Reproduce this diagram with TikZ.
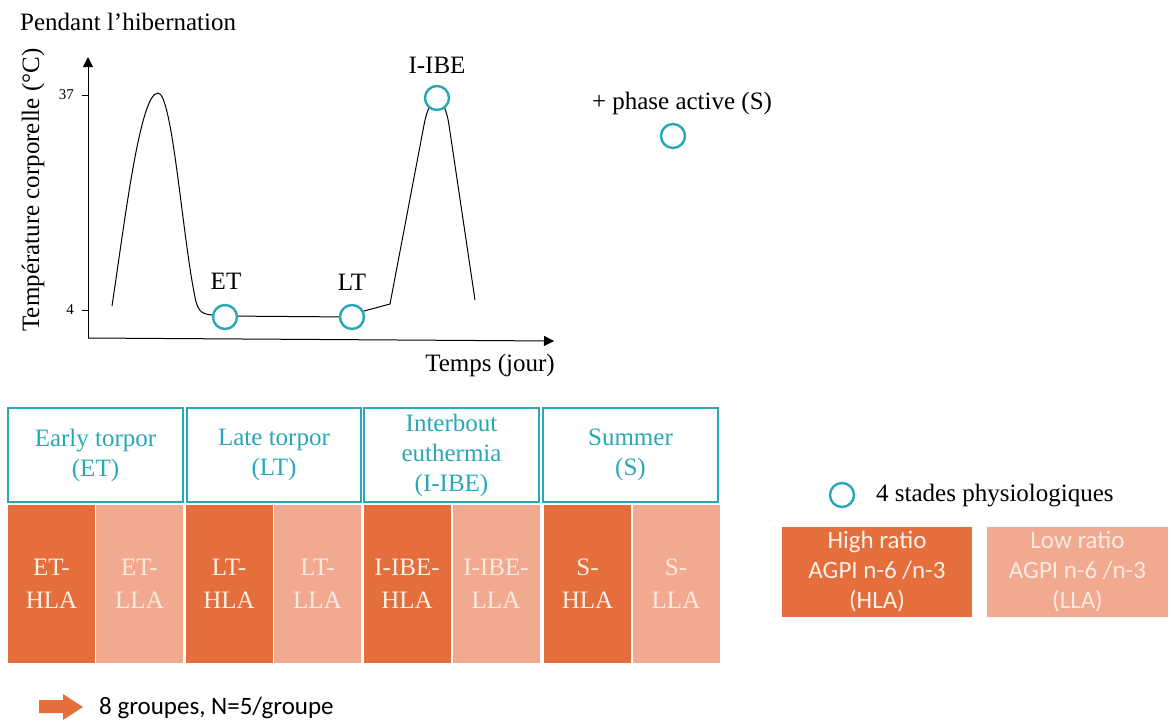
\documentclass[tikz,border=0pt]{standalone}
\usepackage{fontspec}
\setmainfont{Liberation Serif}
\newfontfamily\calib{Carlito}
\usetikzlibrary{arrows.meta}
\definecolor{teal1}{RGB}{40,168,182}
\definecolor{darkor}{RGB}{228,110,60}
\definecolor{lightor}{RGB}{241,170,143}
\definecolor{hltext}{RGB}{252,240,232}
\definecolor{lltext}{RGB}{253,234,225}
\newcommand\fbig{\fontsize{25}{30}\selectfont}
\newcommand\fcell{\fontsize{25}{33}\selectfont}
\newcommand\fsans{\calib\fontsize{25}{30}\selectfont}
\newcommand\fsmall{\fontsize{15}{18}\selectfont}
\begin{document}
\begin{tikzpicture}[x=1pt,y=-1pt,
  stage/.style={circle, draw=teal1, line width=2.4pt, fill=white, minimum size=24pt, inner sep=0pt},
  axis/.style={line width=1pt, -{Triangle[width=10pt,length=10pt]}},
  curveline/.style={line width=1pt, black},
  lbl/.style={font=\fbig, inner sep=0pt},
  phasebox/.style={draw=teal1, line width=1.2pt, minimum height=94pt, text=teal1, align=center, font=\fbig, inner sep=0pt},
  hlabox/.style={fill=darkor, minimum width=87pt, minimum height=158pt, text=hltext, align=center, font=\fcell, inner sep=0pt},
  llabox/.style={fill=lightor, minimum width=87pt, minimum height=158pt, text=lltext, align=center, font=\fcell, inner sep=0pt},
  legbox/.style={minimum height=90pt, align=center, font=\fsans, inner sep=0pt}
]
\useasboundingbox (0,0) rectangle (1171,724);

% title
\node[lbl, anchor=west] (title) at (20,22) {Pendant l'hibernation};

% axes
\coordinate (origin) at (88,338);
\coordinate (ytop) at (88,57);
\coordinate (xend) at (554,341);
\draw[axis] (origin) -- (ytop);
\draw[axis] (origin) -- (xend);
\coordinate (t37) at (82,95);
\coordinate (t37b) at (88,95);
\coordinate (t4) at (82,310);
\coordinate (t4b) at (88,310);
\draw[line width=0.8pt] (t37) -- (t37b);
\draw[line width=0.8pt] (t4) -- (t4b);
\node[font=\fsmall, anchor=east, inner sep=0pt] (l37) at (74,95) {37};
\node[font=\fsmall, anchor=east, inner sep=0pt] (l4) at (74,310) {4};
\node[lbl, rotate=90] (ylab) at (33,190) {Température corporelle (°C)};
\node[lbl] (xlab) at (490,365) {Temps (jour)};

% curve
\draw[curveline] (112,306) .. controls (125,220) and (140,93) .. (158,93)
  .. controls (172,93) and (182,230) .. (194,292)
  .. controls (197,310) and (200,314) .. (212,315)
  -- (225,316) -- (352,317) -- (364,311) -- (390,304)
  -- (424,125) .. controls (430,92) and (444,92) .. (449,125) -- (475,300);

% stage circles
\node[stage] (et) at (225,317) {};
\node[stage] (lt) at (352,317) {};
\node[stage] (ibe) at (437,98) {};
\node[lbl] (etl) at (226,281) {ET};
\node[lbl] (ltl) at (352,282) {LT};
\node[lbl] (ibel) at (437,65) {I-IBE};

% summer
\node[lbl] (phase) at (682,103) {+ phase active (S)};
\node[stage] (s) at (673,136) {};

% phase boxes
\node[phasebox, minimum width=175pt] (p1) at (95.5,455) {Early torpor\\(ET)};
\node[phasebox, minimum width=174pt] (p2) at (274,455) {Late torpor\\(LT)};
\node[phasebox, minimum width=175pt] (p3) at (451.5,455) {Interbout\\euthermia\\(I-IBE)};
\node[phasebox, minimum width=175pt] (p4) at (630.5,455) {Summer\\(S)};

% group boxes
\node[hlabox] (g1) at (51.5,584) {ET-\\HLA};
\node[llabox] (g2) at (139.5,584) {ET-\\LLA};
\node[hlabox] (g3) at (229,584) {LT-\\HLA};
\node[llabox] (g4) at (317.5,584) {LT-\\LLA};
\node[hlabox] (g5) at (407,584) {I-IBE-\\HLA};
\node[llabox] (g6) at (496,584) {I-IBE-\\LLA};
\node[hlabox] (g7) at (587.5,584) {S-\\HLA};
\node[llabox] (g8) at (676,584) {S-\\LLA};

% legend
\node[stage] (legc) at (842,495) {};
\node[lbl, anchor=west] (legt) at (876,496) {4 stades physiologiques};
\node[legbox, fill=darkor, text=hltext, minimum width=190pt] (hla) at (877,572) {High ratio\\AGPI n-6 /n-3\\(HLA)};
\node[legbox, fill=lightor, text=lltext, minimum width=181pt] (lla) at (1077.5,572) {Low ratio\\AGPI n-6 /n-3\\(LLA)};

% bottom arrow
\fill[darkor] (39,700) -- (63,700) -- (63,694) -- (83,707) -- (63,720) -- (63,713) -- (39,713) -- cycle;
\node[font=\fsans, anchor=west, inner sep=0pt] (groups) at (99,708) {8 groupes, N=5/groupe};
\end{tikzpicture}
\end{document}
